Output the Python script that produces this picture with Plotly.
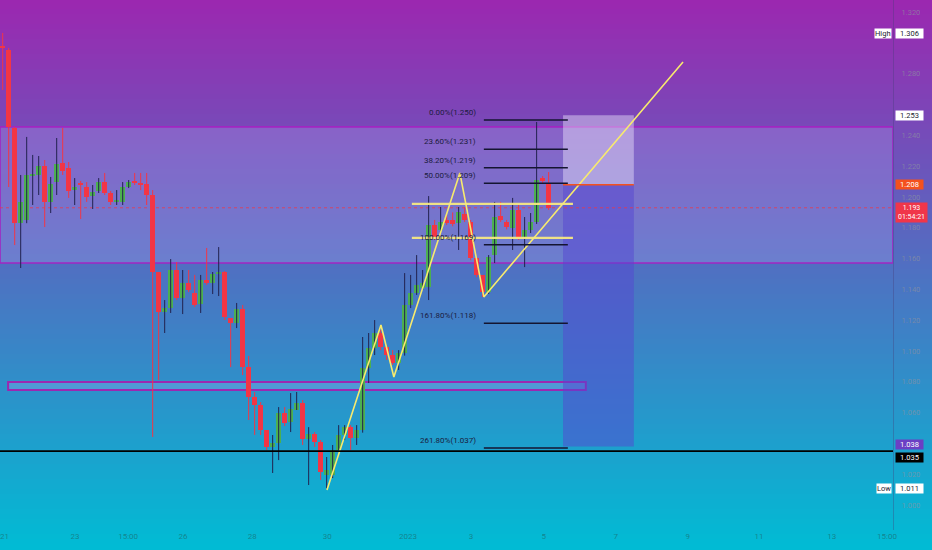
import plotly.graph_objects as go

# ---------------- data ----------------
opens = [1.2981, 1.2955, 1.2448, 1.1831, 1.1851, 1.2136, 1.2143, 1.2201, 1.1968, 1.2097,
         1.2221, 1.2188, 1.2045, 1.2084, 1.2065, 1.2006, 1.2039, 1.2097, 1.2026, 1.1968,
         1.1968, 1.2065, 1.2104, 1.2091, 1.2084, 1.2013, 1.1513, 1.1253, 1.1279, 1.1526,
         1.1344, 1.1442, 1.1377, 1.1305, 1.1461, 1.1442, 1.1500, 1.1513, 1.1214, 1.1182,
         1.1273, 1.0896, 1.0701, 1.0649, 1.0487, 1.0377, 1.0403, 1.0597, 1.0540, 1.0617,
         1.0662, 1.0429, 1.0461, 1.0409, 1.0195, 1.0195, 1.0357, 1.0455, 1.0506, 1.0435,
         1.0487, 1.0890, 1.1019, 1.1117, 1.1026, 1.0974, 1.0922, 1.0987, 1.1299, 1.1377,
         1.1409, 1.1416, 1.1818, 1.1786, 1.1851, 1.1851, 1.1831, 1.1890, 1.1838, 1.1604,
         1.1494, 1.1383, 1.1623, 1.1877, 1.1838, 1.1799, 1.1916, 1.1734, 1.1786, 1.1838,
         1.2123, 1.2091]
closes = [1.2968, 1.2455, 1.1831, 1.1968, 1.2143, 1.2149, 1.2201, 1.1968, 1.2084, 1.2214,
          1.2169, 1.2039, 1.2065, 1.2078, 1.2000, 1.2032, 1.2097, 1.2026, 1.1968, 1.1981,
          1.2065, 1.2097, 1.2091, 1.2084, 1.2013, 1.1513, 1.1253, 1.1279, 1.1526, 1.1344,
          1.1442, 1.1396, 1.1299, 1.1461, 1.1442, 1.1500, 1.1513, 1.1221, 1.1182, 1.1273,
          1.0896, 1.0701, 1.0649, 1.0487, 1.0377, 1.0403, 1.0597, 1.0532, 1.0625, 1.0662,
          1.0429, 1.0461, 1.0409, 1.0214, 1.0230, 1.0357, 1.0455, 1.0506, 1.0435, 1.0487,
          1.0890, 1.1019, 1.1117, 1.1026, 1.0974, 1.0922, 1.0987, 1.1299, 1.1377, 1.1429,
          1.1442, 1.1818, 1.1740, 1.1838, 1.1831, 1.1825, 1.1903, 1.1851, 1.1604, 1.1494,
          1.1383, 1.1610, 1.1870, 1.1851, 1.1805, 1.1916, 1.1734, 1.1786, 1.1838, 1.2110,
          1.2104, 1.1930]
highs = [1.3065, 1.2968, 1.2455, 1.2143, 1.2390, 1.2273, 1.2266, 1.2240, 1.2130, 1.2383,
         1.2448, 1.2227, 1.2123, 1.2104, 1.2097, 1.2078, 1.2123, 1.2156, 1.2039, 1.2045,
         1.2097, 1.2110, 1.2156, 1.2156, 1.2156, 1.2045, 1.1513, 1.1331, 1.1597, 1.1578,
         1.1526, 1.1526, 1.1494, 1.1494, 1.1669, 1.1513, 1.1675, 1.1519, 1.1214, 1.1312,
         1.1299, 1.0968, 1.0734, 1.0669, 1.0487, 1.0455, 1.0636, 1.0636, 1.0727, 1.0734,
         1.0682, 1.0506, 1.0474, 1.0422, 1.0312, 1.0390, 1.0519, 1.0519, 1.0519, 1.0519,
         1.1091, 1.1117, 1.1201, 1.1136, 1.1039, 1.1006, 1.1006, 1.1506, 1.1494, 1.1623,
         1.1526, 1.2006, 1.1851, 1.1935, 1.1883, 1.1900, 1.1935, 1.1935, 1.1851, 1.1610,
         1.1494, 1.1623, 1.1968, 1.1968, 1.1851, 1.1994, 1.1948, 1.1870, 1.1896, 1.2487,
         1.2136, 1.2162]
lows = [1.2695, 1.2065, 1.1688, 1.1539, 1.1830, 1.1948, 1.2013, 1.1805, 1.1896, 1.2013,
        1.2143, 1.1994, 1.1948, 1.1857, 1.1968, 1.1922, 1.2026, 1.2013, 1.1948, 1.1948,
        1.1948, 1.2058, 1.2078, 1.2045, 1.1948, 1.0442, 1.0812, 1.1117, 1.1247, 1.1331,
        1.1240, 1.1383, 1.1286, 1.1247, 1.1429, 1.1370, 1.1357, 1.1201, 1.0896, 1.1149,
        1.0844, 1.0552, 1.0455, 1.0455, 1.0357, 1.0208, 1.0292, 1.0513, 1.0474, 1.0617,
        1.0390, 1.0130, 1.0377, 1.0162, 1.0110, 1.0175, 1.0357, 1.0422, 1.0357, 1.0390,
        1.0470, 1.0792, 1.0974, 1.1006, 1.0942, 1.0909, 1.0877, 1.0970, 1.1279, 1.1364,
        1.1396, 1.1331, 1.1721, 1.1773, 1.1818, 1.1810, 1.1656, 1.1838, 1.1590, 1.1480,
        1.1351, 1.1370, 1.1571, 1.1838, 1.1790, 1.1656, 1.1721, 1.1545, 1.1766, 1.1825,
        1.2091, 1.1916]

# x-axis tick labels (bar-index positions)
tick_pos = [0.3, 12.05, 20.9, 30.05, 41.6, 54.1, 67.55, 78.05, 90.2, 102.2, 114.2, 126.05, 138.2, 147.4]
tick_text = ["21", "23", "15:00", "26", "28", "30", "2023", "3", "5", "7", "9", "11", "13", "15:00"]
# price ticks (those hidden behind price-scale labels in the picture are left out)
price_ticks = [1.000, 1.020, 1.060, 1.080, 1.100, 1.120, 1.140, 1.160, 1.180,
               1.200, 1.220, 1.240, 1.280, 1.320]

# drawings
zigzag_idx = [54.05, 63.05, 65.2, 76.2, 80.2, 113.4]
zigzag_price = [1.0097, 1.1169, 1.0831, 1.2156, 1.1351, 1.2877]
flag_idx = [68.2, 95.05]
flag_prices = [1.1955, 1.1734]
fib_idx = [80.2, 94.2]
fib_pct = ["0.00%", "23.60%", "38.20%", "50.00%", "100.00%", "161.80%", "261.80%"]
fib_prices = [1.250, 1.231, 1.219, 1.209, 1.169, 1.118, 1.037]
zone_top = [1.2455, 1.1571]
zone_thin_idx = [0.9, 97.2]
zone_thin = [1.0799, 1.0747]
support_price = 1.035
short_idx = [93.4, 105.2]
short_stop, short_entry, short_target = 1.253, 1.208, 1.038
last_price = 1.193
high_price, low_price = 1.306, 1.011
countdown = "01:54:21"

# ---------------- figure ----------------
W, H = 932, 550
ML, MR, MT, MB = 0, 39, 0, 20
plot_w, plot_h = W - ML - MR, H - MT - MB
x_range = [-0.45, 148.4]
y_range = [0.9838, 1.3279]

fig = go.Figure()

# gradient background
top_c = (156, 39, 176)
bot_c = (0, 188, 212)
nb = 110
for k in range(nb):
    y0px = k * H / nb
    y1px = (k + 1) * H / nb
    t = (y0px + y1px) / 2 / H
    col = tuple(round(top_c[j] + (bot_c[j] - top_c[j]) * t) for j in range(3))
    fig.add_shape(type="rect", xref="paper", yref="paper", x0=-0.01, x1=W / plot_w + 0.01,
                  y0=(plot_h - y1px) / plot_h - 0.002, y1=(plot_h - y0px) / plot_h + 0.002,
                  fillcolor="rgb(%d,%d,%d)" % col, line_width=0, layer="below")

# resistance zone box
fig.add_shape(type="rect", x0=x_range[0], x1=x_range[1], y0=zone_top[1], y1=zone_top[0],
              fillcolor="rgba(200,185,255,0.22)", line=dict(color="#a126c2", width=1.6), layer="below")
# thin zone
fig.add_shape(type="rect", x0=zone_thin_idx[0], x1=zone_thin_idx[1], y0=zone_thin[1], y1=zone_thin[0],
              fillcolor="rgba(200,185,255,0.22)", line=dict(color="#9c27b0", width=2), layer="below")
# short position tool
fig.add_shape(type="rect", x0=short_idx[0], x1=short_idx[1], y0=short_entry, y1=short_stop,
              fillcolor="rgba(235,228,250,0.45)", line_width=0, layer="below")
fig.add_shape(type="rect", x0=short_idx[0], x1=short_idx[1], y0=short_target, y1=short_entry,
              fillcolor="rgba(85,70,210,0.5)", line_width=0, layer="below")
fig.add_shape(type="line", x0=short_idx[0], x1=short_idx[1], y0=short_entry, y1=short_entry,
              line=dict(color="#f4511e", width=1.5))

# current price dashed line
fig.add_shape(type="line", xref="x", x0=x_range[0], x1=x_range[1], y0=last_price, y1=last_price,
              line=dict(color="rgba(242,54,69,0.75)", width=1, dash="dot"), layer="below")
# support black line
fig.add_shape(type="line", x0=x_range[0], x1=x_range[1], y0=support_price, y1=support_price,
              line=dict(color="#000000", width=1.6))

# candles
idx = list(range(len(opens)))
up = [i for i in idx if closes[i] >= opens[i]]
dn = [i for i in idx if closes[i] < opens[i]]


def wicks(sel):
    xs, ys = [], []
    for i in sel:
        xs += [i, i, None]
        ys += [lows[i], highs[i], None]
    return xs, ys


wx, wy = wicks(up)
fig.add_trace(go.Scatter(x=wx, y=wy, mode="lines", line=dict(color="#22224f", width=1),
                         hoverinfo="skip", showlegend=False))
wx, wy = wicks(dn)
fig.add_trace(go.Scatter(x=wx, y=wy, mode="lines", line=dict(color="#f23645", width=1),
                         hoverinfo="skip", showlegend=False))


def bodies(sel, color):
    base = [min(opens[i], closes[i]) for i in sel]
    hgt = [max(abs(closes[i] - opens[i]), 0.0008) for i in sel]
    return go.Bar(x=sel, y=hgt, base=base, width=0.82, marker=dict(color=color, line_width=0),
                  showlegend=False, hoverinfo="skip")


fig.add_trace(bodies(up, "#4caf50"))
fig.add_trace(bodies(dn, "#f23645"))

# fib levels
for pct, p in zip(fib_pct, fib_prices):
    fig.add_shape(type="line", x0=fib_idx[0], x1=fib_idx[1], y0=p, y1=p,
                  line=dict(color="#141530", width=1.5))
    fig.add_annotation(x=fib_idx[0] - 1.0, y=p, text="%s(%.3f)" % (pct, p), showarrow=False,
                       xanchor="right", yanchor="bottom", yshift=1,
                       font=dict(family="Roboto", size=8, color="#1b1c40"))

# yellow flag lines
for p in flag_prices:
    fig.add_shape(type="line", x0=flag_idx[0], x1=flag_idx[1], y0=p, y1=p,
                  line=dict(color="rgba(245,232,130,0.95)", width=2.2))
# yellow zigzag
fig.add_trace(go.Scatter(x=zigzag_idx, y=zigzag_price, mode="lines",
                         line=dict(color="#f7ea6e", width=1.6), hoverinfo="skip", showlegend=False))

# price-scale labels
lab_font = dict(family="Roboto", size=7.5)
axis_labels = [
    (high_price, "%.3f" % high_price, "#ffffff", "#1b1c30", "middle", 0),
    (short_stop, "%.3f" % short_stop, "#ffffff", "#1b1c30", "middle", 0),
    (short_entry, "%.3f" % short_entry, "#f4511e", "#ffffff", "middle", 0),
    (support_price, "%.3f" % short_target, "#6c3fc4", "#ffffff", "bottom", 1),
    (support_price, "%.3f" % support_price, "#000000", "#ffffff", "top", -1),
    (low_price, "%.3f" % low_price, "#ffffff", "#1b1c30", "middle", 0),
]
for p, txt, bg, fg, anc, sh in axis_labels:
    fig.add_annotation(xref="paper", x=1, xanchor="left", xshift=2, y=p, yanchor=anc, yshift=sh,
                       text=txt, showarrow=False, bgcolor=bg, width=27, align="center",
                       borderpad=0, font=dict(color=fg, **lab_font))
fig.add_annotation(xref="paper", x=1, xanchor="left", xshift=2, y=last_price, yanchor="top", yshift=6,
                   text="%.3f<br>%s" % (last_price, countdown), showarrow=False, bgcolor="#f0364a",
                   width=29, align="center", borderpad=1, font=dict(color="#ffffff", family="Roboto", size=7))
for p, txt in [(high_price, "High"), (low_price, "Low")]:
    fig.add_annotation(xref="paper", x=1, xanchor="right", xshift=-1, y=p, yanchor="middle",
                       text=txt, showarrow=False, bgcolor="#ffffff", borderpad=0,
                       font=dict(color="#1b1c30", **lab_font))

ytick_col = "rgba(140,145,160,0.7)"
xtick_col = "rgba(30,95,95,0.6)"
fig.update_layout(
    width=W, height=H,
    margin=dict(l=ML, r=MR, t=MT, b=MB),
    paper_bgcolor="rgba(0,0,0,0)", plot_bgcolor="rgba(0,0,0,0)",
    barmode="overlay", bargap=0, showlegend=False, hovermode=False,
    xaxis=dict(range=x_range, tickvals=tick_pos, ticktext=tick_text, showgrid=False,
               zeroline=False, showline=False, ticks="",
               tickfont=dict(family="Roboto", size=8, color=xtick_col)),
    yaxis=dict(range=y_range, side="right", tickvals=price_ticks,
               ticktext=["%.3f" % v for v in price_ticks], showgrid=False, zeroline=False,
               showline=True, linecolor="rgba(70,60,120,0.35)", linewidth=1, ticks="",
               ticklabelstandoff=6, tickfont=dict(family="Roboto", size=7.5, color=ytick_col)),
)

fig.write_html("out.html", config={"displayModeBar": False},
               post_script="document.body.style.margin='0';document.body.style.overflow='hidden';")
